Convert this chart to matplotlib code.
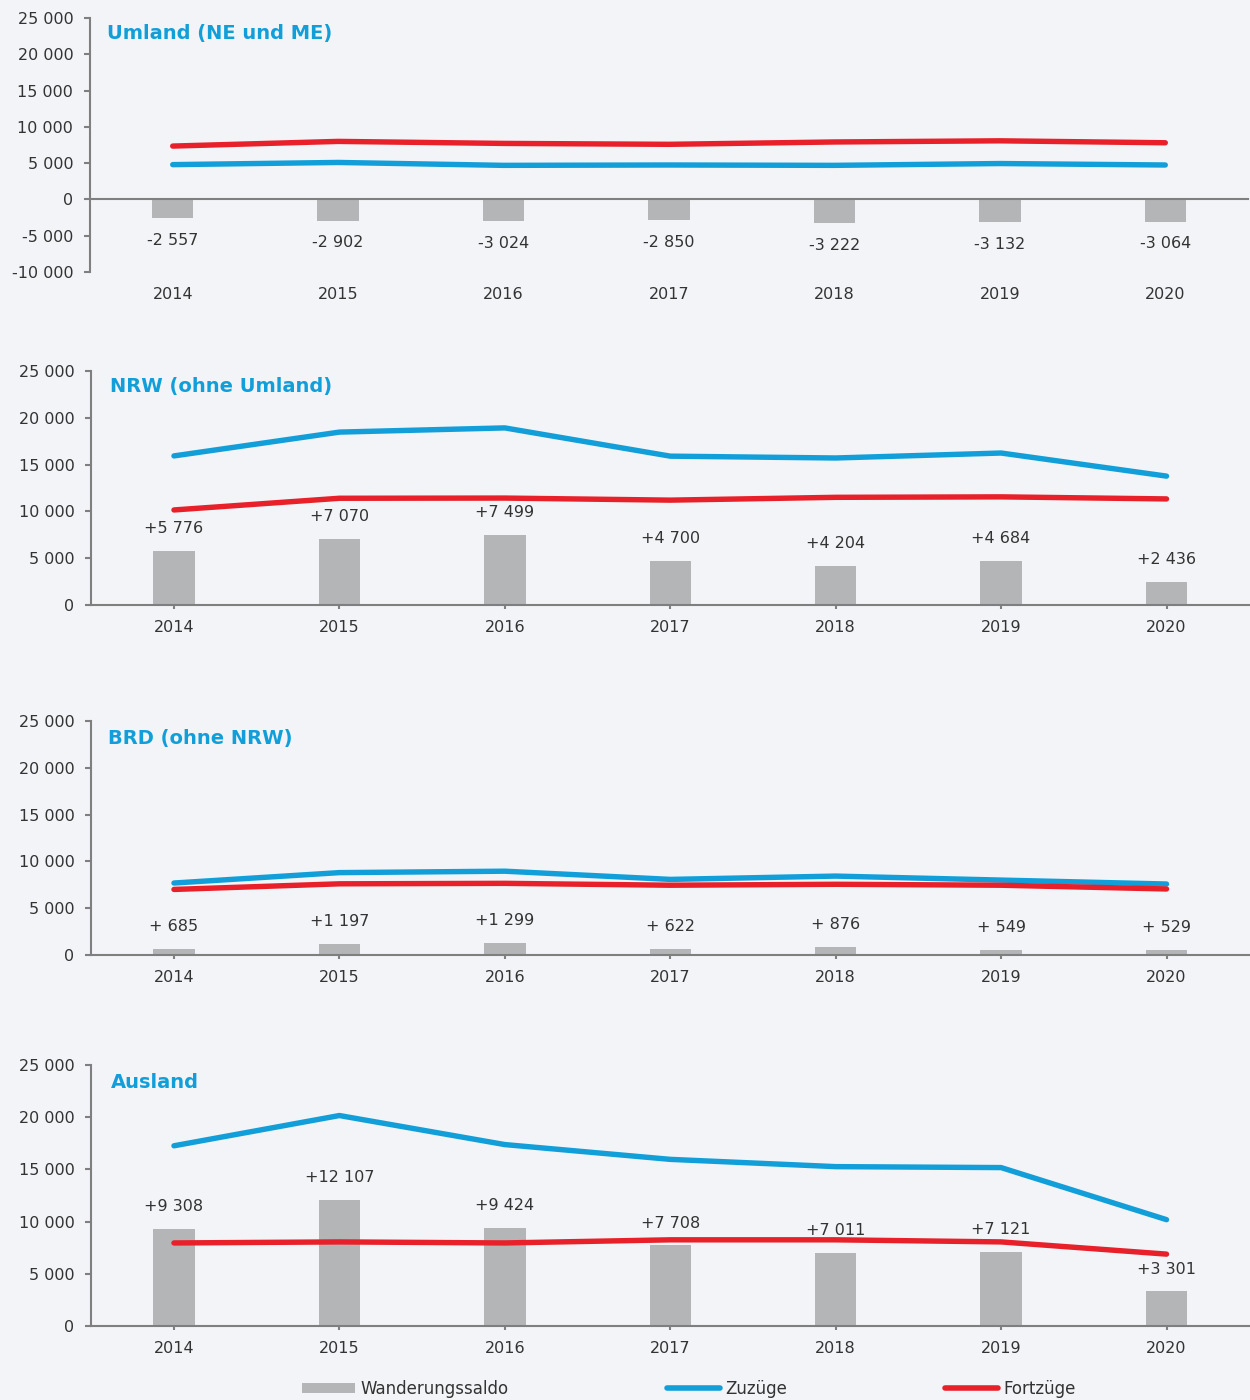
import matplotlib
matplotlib.use("Agg")
import matplotlib.pyplot as plt
from matplotlib.lines import Line2D
from matplotlib.patches import Patch

years = ["2014", "2015", "2016", "2017", "2018", "2019", "2020"]

titles = ["Umland (NE und ME)", "NRW (ohne Umland)", "BRD (ohne NRW)", "Ausland"]

saldo_umland = [-2557, -2902, -3024, -2850, -3222, -3132, -3064]
zuzuege_umland = [4800, 5100, 4700, 4750, 4700, 4950, 4750]
fortzuege_umland = [7357, 8002, 7724, 7600, 7922, 8082, 7814]

saldo_nrw = [5776, 7070, 7499, 4700, 4204, 4684, 2436]
zuzuege_nrw = [15926, 18470, 18919, 15900, 15704, 16234, 13766]
fortzuege_nrw = [10150, 11400, 11420, 11200, 11500, 11550, 11330]

saldo_brd = [685, 1197, 1299, 622, 876, 549, 529]
zuzuege_brd = [7685, 8797, 8949, 8072, 8426, 7999, 7579]
fortzuege_brd = [7000, 7600, 7650, 7450, 7550, 7450, 7050]

saldo_ausland = [9308, 12107, 9424, 7708, 7011, 7121, 3301]
zuzuege_ausland = [17258, 20157, 17374, 15958, 15261, 15171, 10181]
fortzuege_ausland = [7950, 8050, 7950, 8250, 8250, 8050, 6880]

ylims = [(-10000, 25000), (0, 25000), (0, 25000), (0, 25000)]
yticks_all = [list(range(-10000, 25001, 5000)), list(range(0, 25001, 5000)),
              list(range(0, 25001, 5000)), list(range(0, 25001, 5000))]

BG = "#f2f4f7"
BLUE = "#129fd9"
RED = "#e8202a"
GRAY = "#b3b5b6"
AXC = "#7f7f7f"
TXT = "#333333"

plt.rcParams['font.family'] = ['DejaVu Sans']

fig = plt.figure(figsize=(12.5, 14), dpi=100, facecolor=BG)

positions = [
    (0.072, 0.8057, 0.9264, 0.1814),
    (0.073, 0.5679, 0.9264, 0.1671),
    (0.073, 0.3179, 0.9264, 0.1671),
    (0.073, 0.0529, 0.9264, 0.1864),
]
title_pos = [(0.0147, 0.941), (0.0163, 0.932), (0.0145, 0.927), (0.017, 0.931)]

data = [
    (saldo_umland, zuzuege_umland, fortzuege_umland),
    (saldo_nrw, zuzuege_nrw, fortzuege_nrw),
    (saldo_brd, zuzuege_brd, fortzuege_brd),
    (saldo_ausland, zuzuege_ausland, fortzuege_ausland),
]


def fmt_tick(v):
    s = f"{abs(v):,}".replace(",", " ")
    return ("-" if v < 0 else "") + s


def fmt_saldo(v):
    if v < 0:
        return "-" + f"{abs(v):,}".replace(",", " ")
    if v < 1000:
        return f"+ {v}"
    return "+" + f"{v:,}".replace(",", " ")


x = list(range(len(years)))
for i in range(4):
    ax = fig.add_axes(positions[i])
    ax.set_facecolor(BG)
    saldo, zu, fort = data[i]
    ax.bar(x, saldo, width=0.25, color=GRAY, zorder=2)
    ax.plot(x, zu, color=BLUE, lw=3.9, zorder=4, solid_capstyle='round')
    ax.plot(x, fort, color=RED, lw=3.9, zorder=4, solid_capstyle='round')
    for xi, v in zip(x, saldo):
        off = 16 if v >= 0 else -16
        ax.annotate(fmt_saldo(v), (xi, v), xytext=(0, off), textcoords='offset points',
                    ha='center', va='center', fontsize=11.5, color=TXT, zorder=3)
    ax.set_xlim(-0.5, 6.5)
    ax.set_ylim(*ylims[i])
    ax.set_yticks(yticks_all[i])
    ax.set_yticklabels([fmt_tick(v) for v in yticks_all[i]])
    for s in ['top', 'right']:
        ax.spines[s].set_visible(False)
    ax.spines['left'].set_color(AXC)
    ax.spines['left'].set_linewidth(1.5)
    ax.spines['bottom'].set_color(AXC)
    ax.spines['bottom'].set_linewidth(1.5)
    ax.spines['bottom'].set_position(('data', 0))
    ax.tick_params(axis='y', direction='out', length=4, width=1.5, color=AXC,
                   labelsize=11.5, labelcolor=TXT, pad=8)
    ax.set_xticks(x)
    if i == 0:
        ax.set_xticklabels([])
        ax.tick_params(axis='x', direction='out', length=3, width=1.5, color=AXC)
        sec = ax.secondary_xaxis(0)
        sec.set_xticks(x)
        sec.set_xticklabels(years)
        sec.spines['bottom'].set_visible(False)
        sec.tick_params(axis='x', length=0, labelsize=11.5, labelcolor=TXT, pad=11)
    else:
        ax.set_xticklabels(years)
        ax.tick_params(axis='x', direction='out', length=3, width=1.5, color=AXC,
                       labelsize=11.5, labelcolor=TXT, pad=8)
    ax.text(title_pos[i][0], title_pos[i][1], titles[i], transform=ax.transAxes,
            ha='left', va='center', fontsize=14, fontweight='bold', color=BLUE)

handles = [
    Patch(facecolor=GRAY, edgecolor='none'),
    Line2D([0], [0], color=BLUE, lw=4, solid_capstyle='round'),
    Line2D([0], [0], color=RED, lw=4, solid_capstyle='round'),
]
labels = ["Wanderungssaldo", "Zuzüge", "Fortzüge"]
leg = fig.legend(handles, labels, loc='center', bbox_to_anchor=(0.551, 0.008), ncol=3,
                 frameon=False, fontsize=12, handlelength=3.2, handleheight=0.5,
                 handletextpad=0.3, columnspacing=9.5,
                 prop={'family': ['Liberation Sans Narrow', 'DejaVu Sans'], 'size': 12})
for t in leg.get_texts():
    t.set_color(TXT)

fig.savefig("out.png", dpi=100, facecolor=BG)
